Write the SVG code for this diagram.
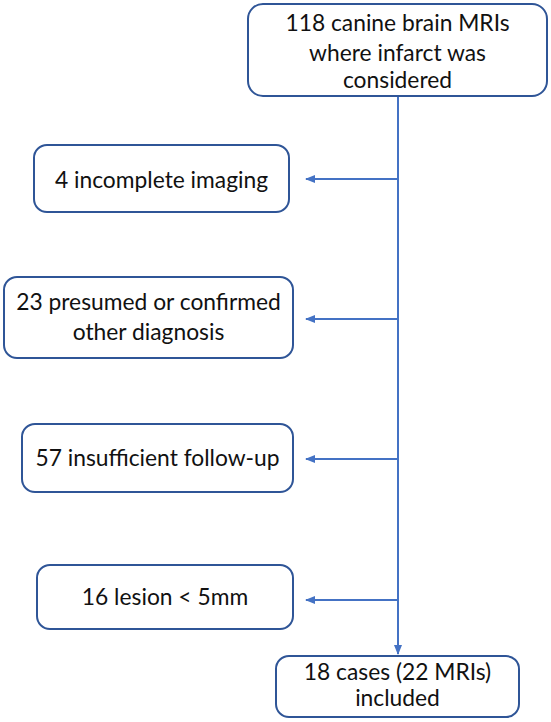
<svg xmlns="http://www.w3.org/2000/svg" width="551" height="722" viewBox="0 0 551 722">
<style>
.box{fill:#fff;stroke:#2F5597;stroke-width:2}
.t{font-family:Lato,"Open Sans","Liberation Sans",sans-serif;font-size:22.8px;fill:#111;text-anchor:middle}
.c{stroke:#4472C4;stroke-width:2;fill:none}
</style>
<defs>
<marker id="ah" markerWidth="10" markerHeight="8" refX="9" refY="4" orient="auto" markerUnits="userSpaceOnUse">
<path d="M0,0 L10,4 L0,8 Z" fill="#4472C4"/>
</marker>
</defs>
<rect width="551" height="722" fill="#fff"/>
<g id="connectors">
<line class="c" x1="398" y1="97" x2="398" y2="654" marker-end="url(#ah)"/>
<line class="c" x1="398" y1="179" x2="306" y2="179" marker-end="url(#ah)"/>
<line class="c" x1="398" y1="319" x2="306" y2="319" marker-end="url(#ah)"/>
<line class="c" x1="398" y1="459" x2="306" y2="459" marker-end="url(#ah)"/>
<line class="c" x1="398" y1="600" x2="306" y2="600" marker-end="url(#ah)"/>
</g>
<g id="n0">
<rect class="box" x="248" y="4" width="299" height="92" rx="15"/>
<text class="t" x="397.5" y="31">118 canine brain MRIs</text>
<text class="t" x="397.5" y="61">where infarct was</text>
<text class="t" x="397.5" y="88">considered</text>
</g>
<g id="n1">
<rect class="box" x="34" y="145" width="255" height="67" rx="13"/>
<text class="t" x="161.5" y="188">4 incomplete imaging</text>
</g>
<g id="n2">
<rect class="box" x="4" y="277" width="289" height="81" rx="13"/>
<text class="t" x="148.5" y="310">23 presumed or confirmed</text>
<text class="t" x="148.5" y="340">other diagnosis</text>
</g>
<g id="n3">
<rect class="box" x="22" y="424" width="271" height="68" rx="13"/>
<text class="t" x="157.5" y="466">57 insufficient follow-up</text>
</g>
<g id="n4">
<rect class="box" x="37" y="565" width="256" height="64" rx="13"/>
<text class="t" x="165" y="605">16 lesion &lt; 5mm</text>
</g>
<g id="n5">
<rect class="box" x="276" y="656" width="243" height="61" rx="13"/>
<text class="t" x="397.5" y="680">18 cases (22 MRIs)</text>
<text class="t" x="397.5" y="706">included</text>
</g>
</svg>
